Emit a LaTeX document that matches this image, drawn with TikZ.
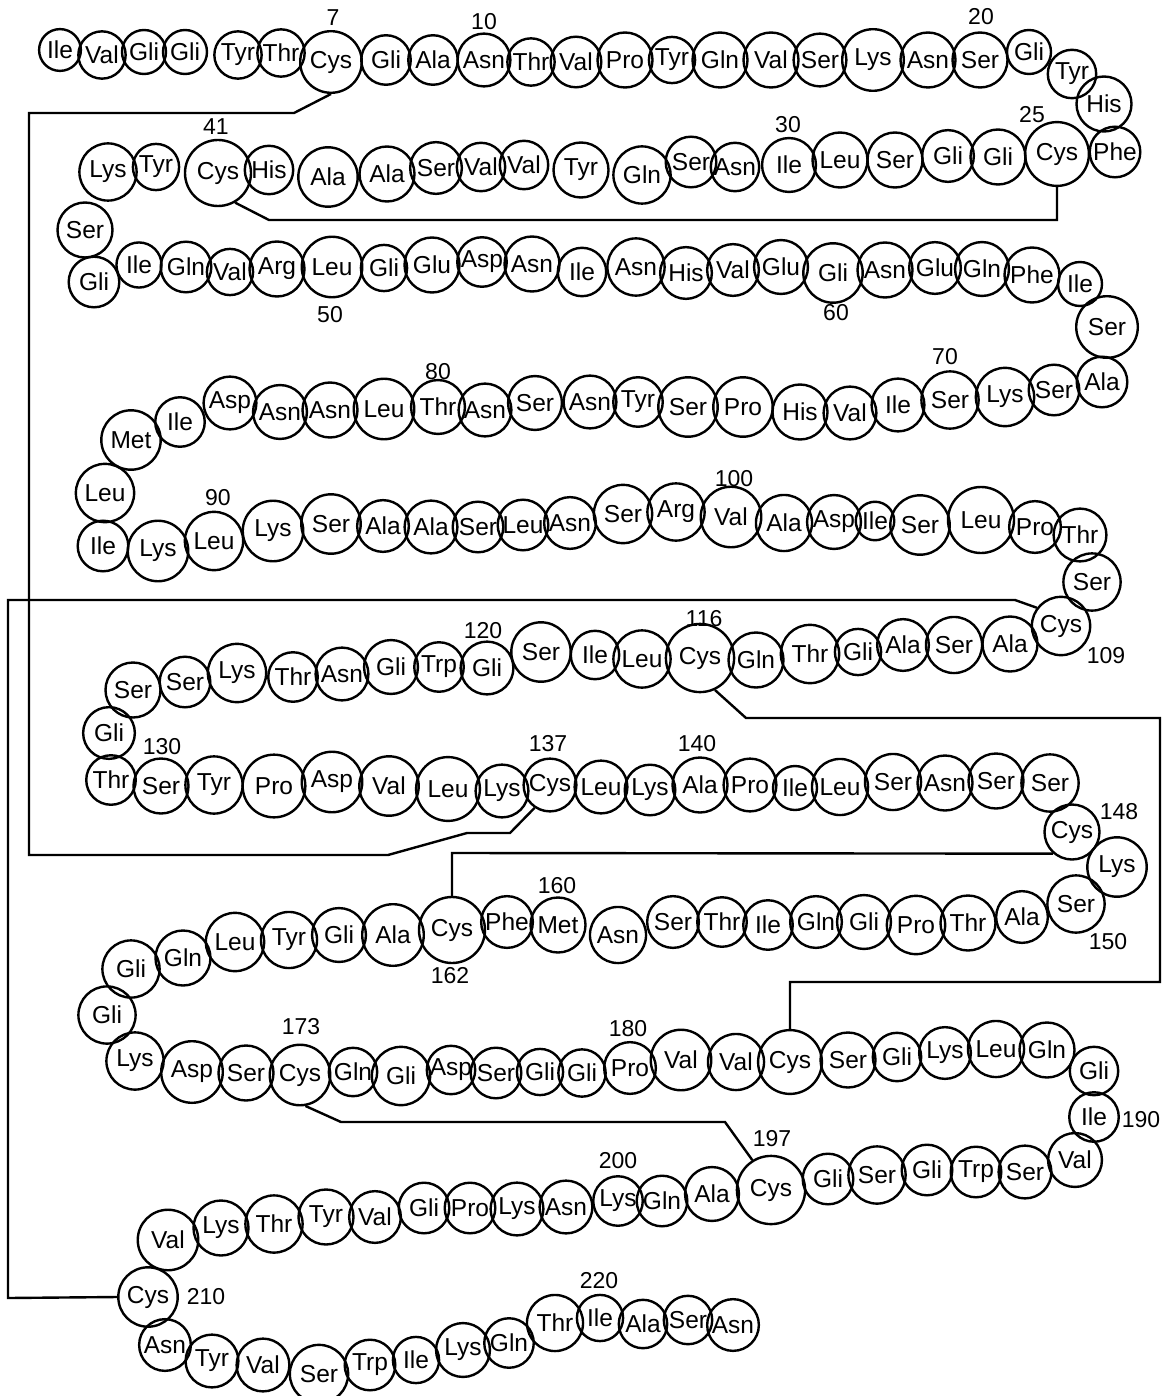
\documentclass[tikz,border=0pt]{standalone}
\usepackage{fontspec}
\setmainfont{Liberation Sans}
\begin{document}
\begin{tikzpicture}[x=1pt,y=-1pt,
  res/.style={circle,draw,line width=2.4pt,inner sep=0pt,font=\fontsize{24.5}{26}\selectfont},
  num/.style={inner sep=0pt,font=\fontsize{23}{25}\selectfont},
  bond/.style={line width=2.4pt,line join=miter}]
\useasboundingbox (0,0) rectangle (1168,1396);
\foreach \n/\xx/\yy/\dd/\lab [evaluate=\dd as \ds using 1.1*\dd] in {
1/60/50/38/Ile, 2/102/55/43/Val, 3/144/52/40/Gli, 4/185/52/40/Gli, 5/238/55/43/Tyr,
6/281/53/43/Thr, 7/331/62/56/Cys, 8/386/60/45/Gli, 9/433/60/45/Ala, 10/484/60/48/Asn,
11/531/62/43/Thr, 12/576/62/46/Val, 13/625/60/50/Pro, 14/672/60/42/Tyr, 15/720/60/50/Gln,
16/771/60/50/Val, 17/820/60/48/Ser, 18/873/60/56/Lys, 19/928/60/50/Asn, 20/980/60/50/Ser,
21/1029/52/40/Gli, 22/1072/74/44/Tyr, 23/1104/104/50/His, 24/1115/152/46/Phe, 25/1057/154/58/Cys,
26/998/157/50/Gli, 27/948/156/47/Gli, 28/895/160/50/Ser, 29/840/160/50/Leu, 30/789/165/49/Ile,
31/735/167/44/Asn, 32/691/162/46/Ser, 33/642/175/52/Gln, 34/581/170/50/Tyr, 35/524/165/44/Val,
36/481/167/44/Val, 37/436/168/47/Ser, 38/387/174/50/Ala, 39/328/177/54/Ala, 40/269/170/44/His,
41/218/173/60/Cys, 42/156/167/42/Tyr, 43/108/172/52/Lys, 44/85/230/50/Ser, 45/94/282/46/Gli,
46/139/265/41/Ile, 47/186/267/46/Gln, 48/230/272/42/Val, 49/277/269/50/Arg, 50/332/267/55/Leu,
51/384/268/42/Gli, 52/432/265/50/Glu, 53/482/262/45/Asp, 54/532/264/50/Asn, 55/582/272/44/Ile,
56/636/267/52/Asn, 57/686/273/47/His, 58/733/270/47/Val, 59/781/267/49/Glu, 60/833/273/54/Gli,
61/885/270/50/Asn, 62/935/268/47/Glu, 63/982/269/49/Gln, 64/1032/275/50/Phe, 65/1080/284/40/Ile,
66/1107/327/56/Ser, 67/1102/382/46/Ala, 68/1054/390/46/Ser, 69/1005/397/53/Lys, 70/950/400/52/Ser,
71/898/405/48/Ile, 72/850/413/48/Val, 73/800/412/50/His, 74/743/407/54/Pro, 75/688/407/54/Ser,
76/638/402/45/Tyr, 77/590/402/48/Asn, 78/535/403/49/Ser, 79/485/410/48/Asn, 80/438/407/49/Thr,
81/384/409/55/Leu, 82/330/410/50/Asn, 83/280/412/49/Asn, 84/230/403/48/Asp, 85/180/422/45/Ile,
86/131/440/54/Met, 87/105/493/53/Leu, 88/103/546/46/Ile, 89/158/551/55/Lys, 90/214/541/53/Leu,
91/273/531/55/Lys, 92/331/524/54/Ser, 93/383/526/47/Ala, 94/431/527/48/Ala, 95/478/527/46/Ser,
96/523/525/46/Leu, 97/570/523/47/Asn, 98/623/514/53/Ser, 99/676/512/52/Arg, 100/731/517/55/Val,
101/784/523/51/Ala, 102/834/522/49/Asp, 103/875/521/35/Ile, 104/920/525/54/Ser, 105/981/520/60/Leu,
106/1035/527/47/Pro, 107/1080/535/48/Thr, 108/1092/582/52/Ser, 109/1061/626/53/Cys, 110/1010/644/50/Ala,
111/954/645/51/Ser, 112/903/645/47/Ala, 113/858/652/42/Gli, 114/810/654/53/Thr, 115/756/660/50/Gln,
116/700/658/62/Cys, 117/642/659/52/Leu, 118/595/655/44/Ile, 119/541/652/54/Ser, 120/487/668/48/Gli,
121/439/667/45/Trp, 122/391/667/49/Gli, 123/342/674/48/Asn, 124/293/677/45/Thr, 125/237/673/53/Lys,
126/185/682/46/Ser, 127/133/690/50/Ser, 128/109/733/47/Gli, 129/111/780/45/Thr, 130/161/786/50/Ser,
131/214/785/52/Tyr, 132/274/786/57/Pro, 133/332/782/55/Asp, 134/389/786/54/Val, 135/448/789/58/Leu,
136/502/791/48/Lys, 137/550/785/48/Cys, 138/601/787/48/Leu, 139/650/790/46/Lys, 140/700/785/50/Ala,
141/750/785/48/Pro, 142/795/788/40/Ile, 143/840/787/51/Leu, 144/893/782/51/Ser, 145/945/783/50/Asn,
146/996/781/50/Ser, 147/1050/783/52/Ser, 148/1072/832/50/Cys, 149/1117/867/54/Lys, 150/1076/904/52/Ser,
151/1022/917/47/Ala, 152/968/923/50/Thr, 153/916/925/53/Pro, 154/864/922/49/Gli, 155/816/922/47/Gln,
156/768/925/45/Ile, 157/722/922/45/Thr, 158/673/922/47/Ser, 159/618/935/51/Asn, 160/558/925/50/Met,
161/507/922/47/Phe, 162/452/930/60/Cys, 163/393/935/56/Ala, 164/339/935/49/Gli, 165/289/940/51/Tyr,
166/235/942/53/Leu, 167/183/958/50/Gln, 168/131/969/52/Gli, 169/107/1015/52/Gli, 170/135/1061/52/Lys,
171/192/1072/56/Asp, 172/246/1073/50/Ser, 173/300/1075/55/Cys, 174/353/1072/44/Gln, 175/401/1076/53/Gli,
176/451/1070/44/Asp, 177/496/1073/46/Ser, 178/540/1072/42/Gli, 179/582/1073/43/Gli, 180/630/1068/47/Pro,
181/681/1060/55/Val, 182/736/1062/51/Val, 183/790/1062/58/Cys, 184/848/1060/50/Ser, 185/897/1057/44/Gli,
186/945/1053/47/Lys, 187/996/1049/51/Leu, 188/1047/1050/50/Gln, 189/1094/1071/44/Gli, 190/1094/1117/45/Ile,
191/1075/1160/49/Val, 192/1025/1172/48/Ser, 193/976/1172/46/Trp, 194/927/1170/46/Gli, 195/877/1175/52/Ser,
196/828/1179/46/Gli, 197/771/1190/62/Cys, 198/712/1194/49/Ala, 199/662/1201/46/Gln, 200/618/1201/45/Lys,
201/566/1207/48/Asn, 202/517/1209/48/Lys, 203/470/1208/46/Pro, 204/424/1208/46/Gli, 205/375/1217/47/Val,
206/326/1217/50/Tyr, 207/274/1224/52/Thr, 208/221/1228/50/Lys, 209/168/1240/55/Val, 210/148/1297/54/Cys,
211/165/1345/47/Asn, 212/212/1361/48/Tyr, 213/263/1365/48/Val, 214/319/1374/53/Ser, 215/370/1365/46/Trp,
216/416/1360/42/Ile, 217/463/1350/49/Lys, 218/509/1343/45/Gln, 219/555/1323/51/Thr, 220/600/1318/42/Ile,
221/643/1324/44/Ala, 222/688/1320/44/Ser, 223/733/1325/47/Asn}
  {\node[res,minimum size=\ds pt] (r\n) at (\xx,\yy) {\lab};}
% sequence numbers
\foreach \n/\xx/\yy/\lab in {
7/333/18/7, 10/484/22/10, 20/981/17/20, 41/216/127/41, 25/1032/115/25, 30/788/125/30,
50/330/315/50, 80/438/372/80, 60/836/313/60, 70/945/357/70, 90/218/498/90, 120/483/631/120,
100/734/479/100, 116/704/619/116, 109/1106/656/109, 130/162/747/130, 137/548/744/137,
160/557/886/160, 140/697/744/140, 148/1119/812/148, 150/1108/942/150, 162/450/976/162,
173/301/1027/173, 180/628/1029/180, 190/1141/1120/190, 197/772/1139/197, 200/618/1161/200,
210/206/1297/210, 220/599/1281/220}
  {\node[num] (n\n) at (\xx,\yy) {\lab};}
% disulfide bridges
\draw[bond] (r7.south) -- (294,113) -- (29,113) -- (29,855) -- (388,855) -- (467,833) -- (510,833) -- (r137.-124);
\draw[bond] (r41.-60) -- (269,220) -- (1057,220) -- (r25.south);
\draw[bond] (r109.143) -- (1015,600) -- (8,600) -- (8,1298) -- (r210.west);
\draw[bond] (r116.-65) -- (746,718) -- (1160,718) -- (1160,982) -- (790,982) -- (r183.north);
\draw[bond] (r148.-131) -- (452,853) -- (r162.north);
\draw[bond] (r173.-80) -- (341,1122) -- (725,1122) -- (r197.122);
\end{tikzpicture}
\end{document}
